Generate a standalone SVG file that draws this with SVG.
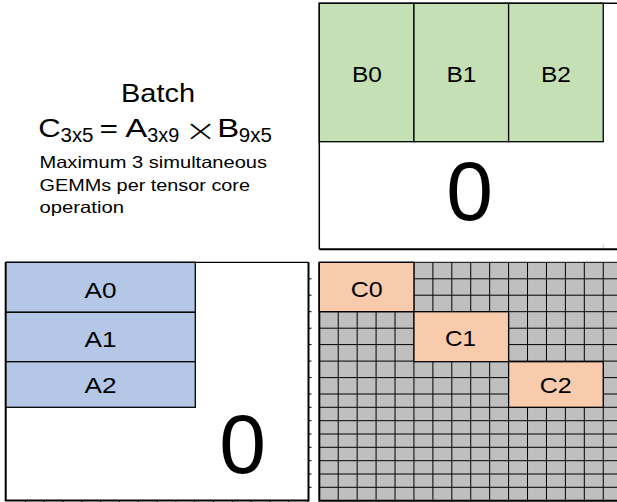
<svg xmlns="http://www.w3.org/2000/svg" width="617" height="502" viewBox="0 0 617 502">
  <style>
    text { font-family: "Liberation Sans", Arial, sans-serif; fill: #000; }
    .lbl { font-size: 22px; text-anchor: middle; }
    .zero { font-size: 84px; text-anchor: middle; }
    .times { font-family: "DejaVu Sans", "Liberation Sans", sans-serif; font-weight: 200; }
    .cell { stroke: #000; stroke-width: 1.3; }
    .b { fill: #c5e0b4; }
    .a { fill: #b4c7e7; }
    .c { fill: #f8cbad; }
    .gridline { fill: none; stroke: #000; stroke-width: 1; }
    .frame { fill: none; stroke: #000; stroke-width: 2; }
  </style>

  <!-- Caption: batched GEMM formula -->
  <g id="caption">
    <text x="121" y="101.7" font-size="26.5" textLength="74" lengthAdjust="spacingAndGlyphs">Batch</text>
    <text x="38.2" y="137.3" font-size="25" textLength="22.5" lengthAdjust="spacingAndGlyphs">C</text>
    <text x="60.5" y="141.7" font-size="20.5" textLength="33" lengthAdjust="spacingAndGlyphs">3x5</text>
    <text x="99.5" y="137.3" font-size="25" textLength="18.5" lengthAdjust="spacingAndGlyphs">=</text>
    <text x="125.3" y="137.3" font-size="25" textLength="22" lengthAdjust="spacingAndGlyphs">A</text>
    <text x="147.2" y="141.7" font-size="20.5" textLength="32" lengthAdjust="spacingAndGlyphs">3x9</text>
    <text class="times" x="184" y="141" font-size="30" textLength="33" lengthAdjust="spacingAndGlyphs">×</text>
    <text x="217.3" y="137.3" font-size="25" textLength="22" lengthAdjust="spacingAndGlyphs">B</text>
    <text x="238.8" y="141.7" font-size="20.5" textLength="33" lengthAdjust="spacingAndGlyphs">9x5</text>
    <text x="39.5" y="168.3" font-size="16.5" textLength="227.5" lengthAdjust="spacingAndGlyphs">Maximum 3 simultaneous</text>
    <text x="39.5" y="190.7" font-size="16.5" textLength="210.5" lengthAdjust="spacingAndGlyphs">GEMMs per tensor core</text>
    <text x="39.5" y="213" font-size="16.5" textLength="84.5" lengthAdjust="spacingAndGlyphs">operation</text>
  </g>

  <!-- Matrix B panel (top right) -->
  <g id="panel-b">
    <path d="M622 3.3H319.3V249.3" fill="none" stroke="#000" stroke-width="1.5"/>
    <line x1="319.3" y1="249.3" x2="622" y2="249.3" stroke="#000" stroke-width="2"/>
    <line x1="603.3" y1="244.5" x2="603.3" y2="248" stroke="#c8c8c8" stroke-width="1"/>
    <text class="zero" x="469.7" y="220">0</text>
  </g>
  <g id="B0">
    <rect class="cell b" x="319.3" y="3.3" width="94.65" height="138.4"/>
    <text class="lbl" x="367" y="81.7" font-size="23" textLength="30" lengthAdjust="spacingAndGlyphs">B0</text>
  </g>
  <g id="B1">
    <rect class="cell b" x="413.95" y="3.3" width="94.65" height="138.4"/>
    <text class="lbl" x="461.5" y="81.7" font-size="23" textLength="30" lengthAdjust="spacingAndGlyphs">B1</text>
  </g>
  <g id="B2">
    <rect class="cell b" x="508.6" y="3.3" width="94.65" height="138.4"/>
    <text class="lbl" x="556" y="81.7" font-size="23" textLength="30" lengthAdjust="spacingAndGlyphs">B2</text>
  </g>

  <!-- Matrix A panel (bottom left): 16x16 tile mostly zero-padded -->
  <g id="panel-a">
    <path class="gridline" d="M25.5 262.3V502M44.3 262.3V502M63.1 262.3V502M81.9 262.3V502M100.7 262.3V502M119.5 262.3V502M138.3 262.3V502M157.1 262.3V502M175.9 262.3V502M194.7 262.3V502M213.5 262.3V502M232.3 262.3V502M251.1 262.3V502M269.9 262.3V502M288.7 262.3V502M307.5 262.3V502
      M6 278.8H311.5M6 295.2H311.5M6 311.7H311.5M6 328.2H311.5M6 344.6H311.5M6 361.1H311.5M6 377.6H311.5M6 394H311.5M6 407.3H311.5M6 420.7H311.5M6 434H311.5M6 447.3H311.5M6 460.7H311.5M6 474H311.5M6 487.3H311.5"/>
    <rect x="5.7" y="262.3" width="302.8" height="238.3" fill="#fff" stroke="none"/>
    <path d="M5.7 262.3H308.5" stroke="#000" stroke-width="1.3" fill="none"/>
    <path class="frame" d="M5.7 262.3V500.6H308.5V262.3"/>
    <text class="zero" x="242.5" y="473.3">0</text>
  </g>
  <g id="A0">
    <rect class="cell a" x="6" y="262.3" width="189.3" height="50"/>
    <text class="lbl" x="100.6" y="297.7" font-size="21.5" textLength="32" lengthAdjust="spacingAndGlyphs">A0</text>
  </g>
  <g id="A1">
    <rect class="cell a" x="6" y="312.3" width="189.3" height="49.4"/>
    <text class="lbl" x="100.6" y="346.7" font-size="21.5" textLength="32" lengthAdjust="spacingAndGlyphs">A1</text>
  </g>
  <g id="A2">
    <rect class="cell a" x="6" y="361.7" width="189.3" height="45.6"/>
    <text class="lbl" x="100.6" y="393.3" font-size="21.5" textLength="32" lengthAdjust="spacingAndGlyphs">A2</text>
  </g>

  <!-- Matrix C panel (bottom right): 16x16 output tile -->
  <g id="panel-c">
    <rect x="319.3" y="262.3" width="302.9" height="238.4" fill="#bfbfbf"/>
    <path class="gridline" d="M338.23 262.3V502M357.16 262.3V502M376.09 262.3V502M395.02 262.3V502M413.95 262.3V502M432.88 262.3V502M451.81 262.3V502M470.74 262.3V502M489.67 262.3V502M508.6 262.3V502M527.53 262.3V502M546.46 262.3V502M565.39 262.3V502M584.32 262.3V502M603.25 262.3V502
      M319.3 262.3H622M319.3 278.8H622M319.3 295.2H622M319.3 311.7H622M319.3 328.2H622M319.3 344.6H622M319.3 361.1H622M319.3 377.6H622M319.3 394H622M319.3 407.3H622M319.3 420.7H622M319.3 434H622M319.3 447.3H622M319.3 460.7H622M319.3 474H622M319.3 487.3H622"/>
    <path d="M319.3 262.3V500.7H622" fill="none" stroke="#000" stroke-width="2"/>
  </g>
  <g id="C0">
    <rect class="cell c" x="319.3" y="262.3" width="94.65" height="49.4"/>
    <text class="lbl" x="366.7" y="296.7" font-size="22" textLength="32" lengthAdjust="spacingAndGlyphs">C0</text>
  </g>
  <g id="C1">
    <rect class="cell c" x="413.95" y="311.7" width="94.65" height="50"/>
    <text class="lbl" x="460.5" y="345.7" font-size="22" textLength="31" lengthAdjust="spacingAndGlyphs">C1</text>
  </g>
  <g id="C2">
    <rect class="cell c" x="508.6" y="361.7" width="94.65" height="45.6"/>
    <text class="lbl" x="555.8" y="392.7" font-size="22" textLength="32" lengthAdjust="spacingAndGlyphs">C2</text>
  </g>
</svg>
